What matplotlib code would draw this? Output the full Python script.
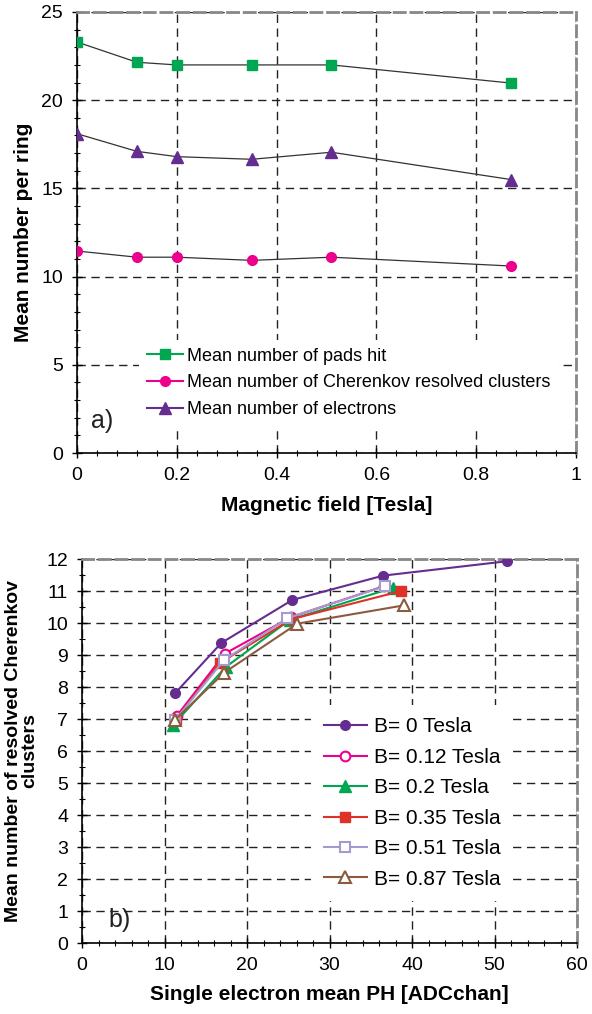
import matplotlib
matplotlib.use("Agg")
import matplotlib.pyplot as plt
from matplotlib.lines import Line2D
from matplotlib.ticker import MultipleLocator, FuncFormatter

plt.rcParams['font.family'] = ['Liberation Sans', 'DejaVu Sans']

# ---- panel a) data ----
b_field = [0, 0.12, 0.2, 0.35, 0.51, 0.87]
pads_hit = [23.3, 22.15, 22.0, 22.0, 22.0, 20.97]
clusters = [11.45, 11.1, 11.1, 10.92, 11.1, 10.6]
electrons = [18.1, 17.1, 16.8, 16.65, 17.05, 15.5]

# ---- panel b) data ----
ph_b0 = [11.3, 16.9, 25.5, 36.5, 51.5]
nc_b0 = [7.81, 9.38, 10.72, 11.48, 11.93]
ph_b012 = [11.5, 17.3, 25.3, 36.6]
nc_b012 = [7.1, 9.04, 10.18, 11.15]
ph_b02 = [11.0, 17.45, 25.2, 37.7]
nc_b02 = [6.8, 8.63, 10.1, 11.1]
ph_b035 = [11.4, 16.7, 25.4, 38.7]
nc_b035 = [7.0, 8.75, 10.12, 11.0]
ph_b051 = [11.3, 17.2, 24.9, 36.7]
nc_b051 = [6.97, 8.84, 10.15, 11.15]
ph_b087 = [11.3, 17.25, 26.1, 39.0]
nc_b087 = [6.98, 8.45, 9.98, 10.55]

green = '#00A651'
pink = '#EC008C'
purple = '#662D91'

fig = plt.figure(figsize=(5.92, 10.14), dpi=100)
ax1 = fig.add_axes([77/592, 1 - 453/1014, 499/592, 441/1014])
ax2 = fig.add_axes([82/592, 1 - 943/1014, 495/592, 384/1014])


def style_axes(ax):
    for s in ['top', 'right']:
        ax.spines[s].set_color('#888888')
        ax.spines[s].set_linestyle((0, (4, 2)))
        ax.spines[s].set_linewidth(2)
    for s in ['left', 'bottom']:
        ax.spines[s].set_color('black')
        ax.spines[s].set_linewidth(1.2)
    ax.tick_params(which='major', direction='inout', length=7, width=1,
                   labelsize=14, pad=6.5)
    ax.tick_params(which='minor', direction='inout', length=4, width=0.8)
    ax.grid(True, which='major', color='#222222', linestyle=(0, (6, 4)),
            linewidth=1)
    ax.set_axisbelow(True)


# ---------------- a) ----------------
style_axes(ax1)
ax1.plot(b_field, pads_hit, color='#333333', lw=0.9, marker='s', ms=7.5,
         mfc=green, mec=green, zorder=3)
ax1.plot(b_field, clusters, color='#333333', lw=0.9, marker='o', ms=7,
         mfc=pink, mec=pink, zorder=3)
ax1.plot(b_field, electrons, color='#333333', lw=0.9, marker='^', ms=8,
         mfc=purple, mec=purple, zorder=3)
ax1.set_xlim(0, 1)
ax1.set_ylim(0, 25)
ax1.xaxis.set_major_locator(MultipleLocator(0.2))
ax1.xaxis.set_minor_locator(MultipleLocator(0.04))
ax1.yaxis.set_major_locator(MultipleLocator(5))
ax1.yaxis.set_minor_locator(MultipleLocator(1))
ax1.xaxis.set_major_formatter(FuncFormatter(lambda v, p: f"{v:g}"))
ax1.set_xlabel('Magnetic field [Tesla]', fontsize=15, fontweight='bold',
               labelpad=9)
ax1.set_ylabel('Mean number per ring', fontsize=15, fontweight='bold')
ax1.yaxis.set_label_coords(-0.088, 0.5)

handles_a = [
    Line2D([], [], color=green, lw=1.5, marker='s', ms=7, mfc=green, mec=green),
    Line2D([], [], color=pink, lw=1.5, marker='o', ms=7, mfc=pink, mec=pink),
    Line2D([], [], color=purple, lw=1.5, marker='^', ms=8, mfc=purple, mec=purple),
]
labels_a = ['Mean number of pads hit',
            'Mean number of Cherenkov resolved clusters',
            'Mean number of electrons']
leg1 = ax1.legend(handles_a, labels_a, loc='upper left',
                  bbox_to_anchor=(0.124, 0.257), borderaxespad=0,
                  frameon=True, fancybox=False, edgecolor='none',
                  framealpha=1, fontsize=13, handlelength=2.0,
                  handletextpad=0.2, labelspacing=0.53, borderpad=0.45)
ax1.text(0.05, 0.072, 'a)', transform=ax1.transAxes, fontsize=18,
         ha='center', va='center', color='#222222')

# ---------------- b) ----------------
style_axes(ax2)
ax2.plot(ph_b0, nc_b0, color=purple, lw=1.5, marker='o', ms=7,
         mfc=purple, mec=purple, label='B= 0 Tesla', zorder=3)
ax2.plot(ph_b012, nc_b012, color=pink, lw=1.5, marker='o', ms=7,
         mfc='white', mec=pink, mew=1.5, label='B= 0.12 Tesla', zorder=3)
ax2.plot(ph_b02, nc_b02, color=green, lw=1.5, marker='^', ms=8,
         mfc=green, mec=green, label='B= 0.2 Tesla', zorder=3)
ax2.plot(ph_b035, nc_b035, color='#E03128', lw=1.5, marker='s', ms=7.5,
         mfc='#E03128', mec='#E03128', label='B= 0.35 Tesla', zorder=3)
ax2.plot(ph_b051, nc_b051, color='#A39BD0', lw=1.5, marker='s', ms=7.5,
         mfc='white', mec='#A39BD0', mew=1.5, label='B= 0.51 Tesla', zorder=3)
ax2.plot(ph_b087, nc_b087, color='#8C5A3C', lw=1.5, marker='^', ms=8.5,
         mfc='white', mec='#8C5A3C', mew=1.5, label='B= 0.87 Tesla', zorder=3)
ax2.set_xlim(0, 60)
ax2.set_ylim(0, 12)
ax2.xaxis.set_major_locator(MultipleLocator(10))
ax2.xaxis.set_minor_locator(MultipleLocator(2))
ax2.yaxis.set_major_locator(MultipleLocator(1))
ax2.yaxis.set_minor_locator(MultipleLocator(0.5))
ax2.set_xlabel('Single electron mean PH [ADCchan]', fontsize=15,
               fontweight='bold', labelpad=8)
ax2.set_ylabel('Mean number of resolved Cherenkov\nclusters', fontsize=14,
               fontweight='bold', linespacing=0.9)
ax2.yaxis.set_label_coords(-0.089, 0.5)
ax2.legend(loc='upper left', bbox_to_anchor=(0.4636, 0.62), borderaxespad=0,
           frameon=True, fancybox=False, edgecolor='none', framealpha=1,
           fontsize=15, handlelength=2.05, handletextpad=0.36,
           labelspacing=0.55, borderpad=0.6)
ax2.text(0.075, 0.06, 'b)', transform=ax2.transAxes, fontsize=18,
         ha='center', va='center', color='#222222')

fig.savefig('out.png', dpi=100)
